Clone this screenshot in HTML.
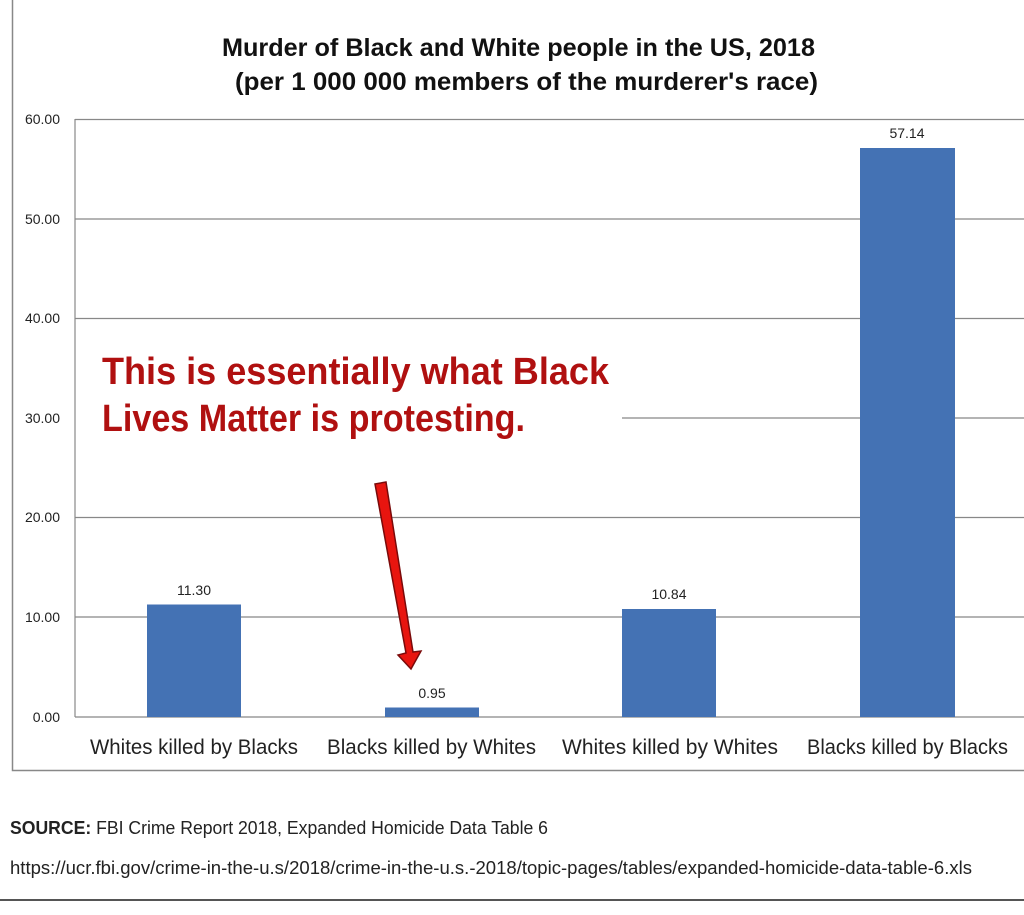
<!DOCTYPE html><html><head><style>
body{margin:0;background:#fff;width:1024px;height:910px;overflow:hidden;font-family:"Liberation Sans",sans-serif}
</style></head><body>
<svg width="1024" height="910" xmlns="http://www.w3.org/2000/svg" font-family="Liberation Sans, sans-serif">
<rect width="1024" height="910" fill="#fff"/>
<path d="M12.5 0 V770.5 H1024" fill="none" stroke="#888" stroke-width="1.5"/>
<line x1="0" y1="900" x2="1024" y2="900" stroke="#555" stroke-width="2"/>
<text x="222" y="56" font-size="25" font-weight="bold" fill="#111" textLength="593" lengthAdjust="spacingAndGlyphs">Murder of Black and White people in the US, 2018</text>
<text x="235" y="90" font-size="25" font-weight="bold" fill="#111" textLength="583" lengthAdjust="spacingAndGlyphs">(per 1 000 000 members of the murderer's race)</text>
<g stroke="#888" stroke-width="1.2">
<line x1="75" y1="119.5" x2="1024" y2="119.5"/>
<line x1="75" y1="219" x2="1024" y2="219"/>
<line x1="75" y1="318.5" x2="1024" y2="318.5"/>
<line x1="622" y1="418" x2="1024" y2="418"/>
<line x1="75" y1="517.5" x2="1024" y2="517.5"/>
<line x1="75" y1="617" x2="1024" y2="617"/>
<line x1="75" y1="717" x2="1024" y2="717"/>
<line x1="75" y1="119" x2="75" y2="717"/>
</g>
<g font-size="14" fill="#222" text-anchor="end">
<text x="60" y="124">60.00</text><text x="60" y="224">50.00</text><text x="60" y="323">40.00</text>
<text x="60" y="423">30.00</text><text x="60" y="522">20.00</text><text x="60" y="622">10.00</text><text x="60" y="722">0.00</text>
</g>
<g fill="#4472b4">
<rect x="147" y="604.5" width="94" height="112.5"/>
<rect x="385" y="707.5" width="94" height="9.5"/>
<rect x="622" y="609" width="94" height="108"/>
<rect x="860" y="148" width="95" height="569"/>
</g>
<g font-size="14" fill="#222" text-anchor="middle">
<text x="194" y="595">11.30</text><text x="432" y="698">0.95</text><text x="669" y="599">10.84</text><text x="907" y="138">57.14</text>
</g>
<g font-size="21" fill="#222" lengthAdjust="spacingAndGlyphs">
<text x="90" y="754" textLength="208" lengthAdjust="spacingAndGlyphs">Whites killed by Blacks</text>
<text x="327" y="754" textLength="209" lengthAdjust="spacingAndGlyphs">Blacks killed by Whites</text>
<text x="562" y="754" textLength="216" lengthAdjust="spacingAndGlyphs">Whites killed by Whites</text>
<text x="807" y="754" textLength="201" lengthAdjust="spacingAndGlyphs">Blacks killed by Blacks</text>
</g>
<g font-size="38" font-weight="bold" fill="#b01010">
<text x="102" y="384" textLength="507" lengthAdjust="spacingAndGlyphs">This is essentially what Black</text>
<text x="102" y="431" textLength="423" lengthAdjust="spacingAndGlyphs">Lives Matter is protesting.</text>
</g>
<polygon points="375,484 386,482 413,652 421,651 411,669 398,655 406,653" fill="#e8150f" stroke="#7a0a0a" stroke-width="1.5"/>
<text x="10" y="834" font-size="18" fill="#222" textLength="538" lengthAdjust="spacingAndGlyphs"><tspan font-weight="bold">SOURCE:</tspan> FBI Crime Report 2018, Expanded Homicide Data Table 6</text>
<text x="10" y="874" font-size="18" fill="#222" textLength="962" lengthAdjust="spacingAndGlyphs">https://ucr.fbi.gov/crime-in-the-u.s/2018/crime-in-the-u.s.-2018/topic-pages/tables/expanded-homicide-data-table-6.xls</text>
</svg>
</body></html>
